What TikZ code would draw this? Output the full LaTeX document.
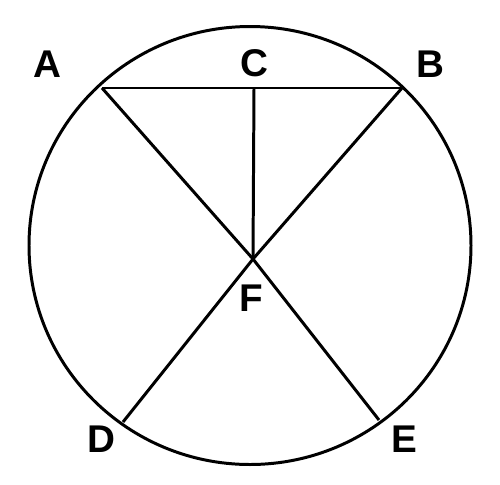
\documentclass[tikz,border=0pt]{standalone}
\usepackage{fontspec}
\setmainfont{Liberation Sans}
\begin{document}
\begin{tikzpicture}[x=0.02cm,y=-0.02cm,
  seg/.style={line width=1.7pt, line join=round},
  lbl/.style={font=\fontsize{22}{26}\selectfont\bfseries, inner sep=0pt}]
\useasboundingbox (0,0) rectangle (500,484);
\draw[seg] (250,245.5) ellipse [x radius=221, y radius=219];
\coordinate (A) at (102,88);
\coordinate (B) at (402,88);
\coordinate (C) at (254,88);
\coordinate (F) at (253,259);
\coordinate (D) at (123,422);
\coordinate (E) at (379,420);
\draw[seg] (A) -- (B);
\draw[seg] (C) -- (F);
\draw[seg] (A) -- (F) -- (E);
\draw[seg] (B) -- (F) -- (D);
\node[lbl] (lA) at (47,64) {A};
\node[lbl] (lC) at (254,63) {C};
\node[lbl] (lB) at (430,64) {B};
\node[lbl] (lF) at (251,298) {F};
\node[lbl] (lD) at (101,439) {D};
\node[lbl] (lE) at (404,439) {E};
\end{tikzpicture}
\end{document}
